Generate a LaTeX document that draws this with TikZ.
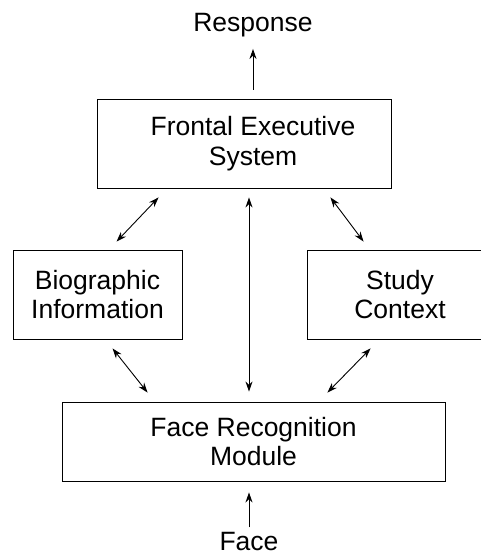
\documentclass[tikz,border=0pt]{standalone}
\usepackage{fontspec}
\setmainfont{Liberation Sans}
\usetikzlibrary{arrows.meta}
\begin{document}
\begin{tikzpicture}[x=1pt, y=-1pt, line width=0.9pt,
    box/.style={draw, align=center, inner sep=0pt, font=\fontsize{26.5}{29.5}\selectfont},
    lbl/.style={inner sep=0pt, font=\fontsize{26.5}{29.5}\selectfont},
    arr/.style={-{Stealth[length=10pt, width=7pt]}},
    darr/.style={{Stealth[length=10pt, width=7pt]}-{Stealth[length=10pt, width=7pt]}}]
      \useasboundingbox (0,0) rectangle (481,556);
      \node[lbl, anchor=base] (resp) at (253,32) {Response};
      \node[box, minimum width=294pt, minimum height=89pt] (fes) at (244,143.5) {\hspace*{18pt}Frontal Executive\\\hspace*{18pt}System};
      \node[box, minimum width=169pt, minimum height=89pt] (bio) at (97.5,294.5) {Biographic\\Information};
      \node[box, minimum width=186pt, minimum height=89pt] (ctx) at (400,294.5) {Study\\Context};
      \node[box, minimum width=383pt, minimum height=79pt] (frm) at (253.5,441.5) {Face Recognition\\Module};
      \node[lbl, anchor=base] (face) at (249,550) {Face};
      \draw[arr] (fes.north -| resp.south) ++(0,-9) -- ([yshift=-11pt]resp.south);
      \draw[darr] (fes.south -| face) ++(0,9) -- ([yshift=10pt]frm.north -| face);
      \draw[arr] ([yshift=4pt]face.north) -- ([yshift=-11pt]frm.south -| face);
      \draw[darr] ([xshift=62pt, yshift=-9pt]fes.south west) -- ([xshift=104pt, yshift=8pt]bio.north west);
      \draw[darr] ([xshift=-61pt, yshift=-9pt]fes.south east) -- ([xshift=57pt, yshift=8pt]ctx.north west);
      \draw[darr] ([xshift=100pt, yshift=-9pt]bio.south west) -- ([xshift=86pt, yshift=9pt]frm.north west);
      \draw[darr] ([xshift=64pt, yshift=-9pt]ctx.south west) -- ([xshift=-118pt, yshift=9pt]frm.north east);
\end{tikzpicture}
\end{document}
